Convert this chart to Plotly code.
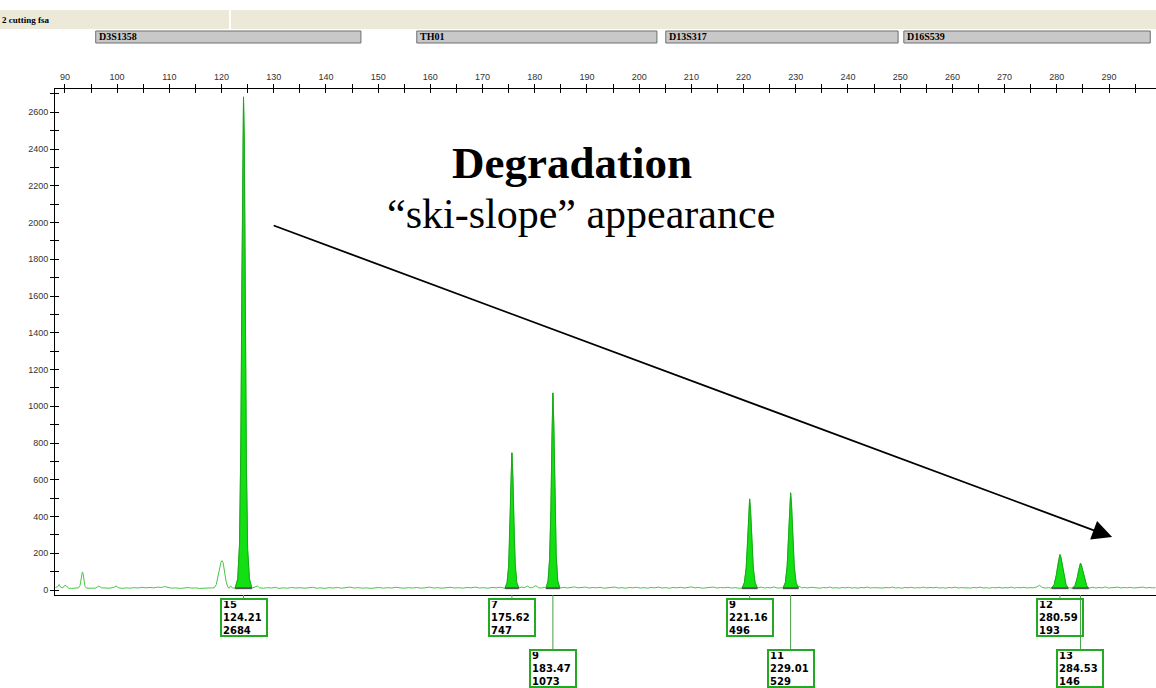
import plotly.graph_objects as go

# ---------------- data ----------------
sample_name = "2 cutting fsa"

locus_names = ["D3S1358", "TH01", "D13S317", "D16S539"]
locus_start = [95.9, 157.4, 205.1, 250.7]
locus_end = [146.7, 203.4, 249.6, 297.9]

allele_labels = ["15", "7", "9", "9", "11", "12", "13"]
allele_sizes = [124.21, 175.62, 183.47, 221.16, 229.01, 280.59, 284.53]
allele_heights = [2684, 747, 1073, 496, 529, 193, 146]

# called (filled) peak profiles: size (bp) / height (RFU)
allele_peak_x = [
    [122.6, 123.1, 123.45, 123.7, 123.9, 124.07, 124.21, 124.36, 124.55, 124.75, 125.0, 125.35, 125.8],
    [174.3, 174.7, 175.0, 175.25, 175.45, 175.62, 175.8, 176.0, 176.25, 176.55, 176.95],
    [182.15, 182.55, 182.85, 183.1, 183.3, 183.47, 183.65, 183.85, 184.1, 184.4, 184.8],
    [219.7, 220.15, 220.5, 220.78, 220.98, 221.16, 221.34, 221.56, 221.85, 222.2, 222.65],
    [227.55, 228.0, 228.35, 228.63, 228.83, 229.01, 229.19, 229.42, 229.7, 230.05, 230.5],
    [279.0, 279.5, 279.9, 280.2, 280.42, 280.59, 280.77, 281.0, 281.35, 281.75, 282.2],
    [283.0, 283.5, 283.9, 284.18, 284.37, 284.53, 284.7, 284.95, 285.3, 285.7, 286.1],
]
allele_peak_y = [
    [10, 60, 250, 800, 1700, 2500, 2684, 2450, 1500, 700, 220, 60, 10],
    [10, 40, 130, 330, 600, 747, 620, 360, 140, 40, 10],
    [10, 50, 170, 450, 850, 1073, 900, 500, 190, 50, 10],
    [10, 40, 120, 260, 420, 496, 430, 270, 120, 40, 10],
    [10, 40, 130, 280, 450, 529, 460, 290, 130, 40, 10],
    [10, 30, 80, 140, 180, 193, 180, 140, 80, 30, 10],
    [10, 25, 65, 110, 138, 146, 136, 105, 60, 25, 10],
]

# uncalled (outline only) peaks
other_peak_x = [
    [92.6, 92.9, 93.15, 93.33, 93.45, 93.62, 93.85, 94.15],
    [118.6, 119.0, 119.35, 119.65, 119.9, 120.1, 120.3, 120.55, 120.85, 121.2, 121.5],
]
other_peak_y = [
    [12, 25, 70, 98, 95, 60, 20, 10],
    [12, 30, 70, 120, 152, 160, 150, 105, 50, 15, 10],
]

# baseline noise (size, RFU)
baseline = [
    (88.2, 14), (88.6, 18), (88.9, 30), (89.2, 15), (89.6, 12), (90.0, 26), (90.3, 22), (90.7, 10),
    (91.3, 9), (92.0, 11), (92.5, 10), (94.5, 9), (95.2, 10), (95.9, 11), (96.5, 22), (97.0, 12),
    (97.8, 9), (98.5, 10), (99.3, 14), (99.8, 22), (100.3, 12), (101.0, 9), (101.8, 12), (102.5, 10),
    (103.3, 13), (104.0, 11), (104.8, 15), (105.5, 12), (106.3, 14), (107.0, 12), (107.8, 16),
    (108.5, 14), (109.1, 19), (109.7, 13), (110.4, 10), (111.2, 12), (112.0, 9), (112.8, 11),
    (113.6, 14), (114.3, 10), (115.0, 12), (115.8, 9), (116.6, 11), (117.4, 10), (118.2, 12),
    (121.7, 22), (122.1, 12), (122.5, 10), (125.9, 11), (126.4, 14), (126.9, 22), (127.3, 12),
    (128.0, 10), (128.8, 13), (129.6, 11), (130.3, 15), (131.0, 9), (131.8, 12), (132.6, 10),
    (133.4, 14), (134.2, 11), (135.0, 13), (135.8, 10), (136.6, 12), (137.4, 15), (138.2, 10),
    (139.0, 12), (139.8, 9), (140.6, 13), (141.4, 11), (142.2, 14), (143.0, 10), (143.8, 12),
    (144.6, 16), (145.4, 11), (146.2, 13), (147.0, 10), (147.8, 12), (148.6, 9), (149.4, 11),
    (150.2, 14), (151.0, 10), (151.8, 13), (152.6, 11), (153.4, 15), (154.2, 12), (155.0, 10),
    (155.8, 13), (156.6, 11), (157.4, 14), (158.2, 10), (159.0, 12), (159.8, 16), (160.6, 11),
    (161.4, 13), (162.2, 10), (163.0, 12), (163.8, 15), (164.6, 11), (165.4, 13), (166.2, 10),
    (167.0, 14), (167.8, 12), (168.6, 16), (169.4, 11), (170.2, 13), (171.0, 10), (171.8, 14),
    (172.6, 12), (173.4, 15), (174.1, 11), (177.0, 12), (177.5, 16), (178.0, 13), (178.6, 22),
    (179.1, 12), (179.6, 14), (180.2, 24), (180.7, 13), (181.3, 11), (181.9, 14), (185.0, 12),
    (185.6, 15), (186.2, 11), (186.9, 14), (187.6, 17), (188.3, 12), (189.0, 13), (189.7, 16),
    (190.4, 11), (191.1, 14), (191.8, 12), (192.5, 15), (193.2, 10), (193.9, 13), (194.6, 12),
    (195.3, 16), (196.0, 11), (196.7, 13), (197.4, 10), (198.1, 14), (198.8, 12), (199.5, 15),
    (200.2, 11), (200.9, 13), (201.6, 10), (202.3, 14), (203.0, 12), (203.7, 16), (204.4, 11),
    (205.1, 13), (205.8, 10), (206.5, 14), (207.2, 12), (207.9, 15), (208.6, 11), (209.3, 13),
    (210.0, 17), (210.7, 12), (211.4, 14), (212.1, 10), (212.8, 13), (213.5, 12), (214.2, 16),
    (214.9, 11), (215.6, 14), (216.3, 12), (217.0, 15), (217.7, 11), (218.4, 13), (219.1, 10),
    (219.6, 12), (222.8, 12), (223.4, 16), (224.0, 11), (224.6, 14), (225.2, 12), (225.8, 17),
    (226.4, 11), (227.0, 13), (227.5, 12), (230.6, 22), (231.1, 12), (231.7, 14), (232.3, 11),
    (232.9, 15), (233.5, 12), (234.1, 13), (234.7, 10), (235.3, 14), (235.9, 12), (236.5, 16),
    (237.1, 11), (237.7, 13), (238.3, 10), (238.9, 14), (239.5, 12), (240.1, 15), (240.7, 11),
    (241.3, 13), (241.9, 10), (242.5, 14), (243.1, 12), (243.7, 16), (244.3, 11), (244.9, 13),
    (245.5, 12), (246.1, 15), (246.7, 11), (247.3, 14), (247.9, 12), (248.5, 16), (249.1, 11),
    (249.7, 13), (250.3, 10), (250.9, 14), (251.5, 12), (252.1, 15), (252.7, 11), (253.3, 13),
    (253.9, 12), (254.5, 16), (255.1, 11), (255.7, 14), (256.3, 12), (256.9, 15), (257.5, 11),
    (258.1, 13), (258.7, 10), (259.3, 14), (259.9, 12), (260.5, 16), (261.1, 11), (261.7, 13),
    (262.3, 12), (262.9, 15), (263.5, 11), (264.1, 14), (264.7, 12), (265.3, 16), (265.9, 11),
    (266.5, 13), (267.1, 10), (267.7, 14), (268.3, 12), (268.9, 15), (269.5, 11), (270.1, 13),
    (270.7, 12), (271.3, 16), (271.9, 11), (272.5, 14), (273.1, 12), (273.7, 15), (274.3, 11),
    (274.9, 13), (275.5, 12), (276.1, 16), (276.7, 26), (277.2, 14), (277.8, 11), (278.4, 13),
    (278.9, 12), (282.4, 12), (282.9, 11), (286.3, 12), (286.9, 15), (287.5, 11), (288.1, 14),
    (288.7, 12), (289.3, 17), (289.9, 11), (290.5, 13), (291.1, 12), (291.7, 16), (292.3, 11),
    (292.9, 14), (293.5, 12), (294.1, 15), (294.7, 11), (295.3, 13), (295.9, 12), (296.5, 16),
    (297.1, 11), (297.7, 14), (298.3, 12), (298.9, 13),
]

title_main = "Degradation"
title_sub = "\u201cski-slope\u201d appearance"

# ---------------- figure ----------------
X_RANGE = [88.1, 299.0]
Y_RANGE = [-27, 2727]
TRACE_GREEN = "#45c845"
FILL_GREEN = "#12e012"
EDGE_GREEN = "#1aa81a"
BOX_GREEN = "#22aa22"
AX_FONT = dict(family="Arial, Liberation Sans", size=9, color="#333333")

pts = list(baseline)
for xs, ys in zip(allele_peak_x + other_peak_x, allele_peak_y + other_peak_y):
    pts += list(zip(xs, ys))
pts.sort(key=lambda p: p[0])

fig = go.Figure()

fig.add_trace(go.Scatter(x=[p[0] for p in pts], y=[p[1] for p in pts], mode="lines",
                         line=dict(color=TRACE_GREEN, width=1), hoverinfo="skip"))

for xs, ys in zip(allele_peak_x, allele_peak_y):
    fig.add_trace(go.Scatter(x=xs, y=ys, mode="lines", fill="toself", fillcolor=FILL_GREEN,
                             line=dict(color=EDGE_GREEN, width=1), hoverinfo="skip"))
    fig.add_trace(go.Scatter(x=[xs[0], xs[-1]], y=[ys[0], ys[-1]], mode="lines",
                             line=dict(color="#555555", width=2), hoverinfo="skip"))

# helper trace for the overlay axes (inner halves of the crossing ticks)
fig.add_trace(go.Scatter(x=[allele_sizes[0]], y=[0], xaxis="x2", yaxis="y2", mode="markers",
                         marker=dict(opacity=0), hoverinfo="skip"))

# allele call boxes
prev = None
prev_row = 2
for lab, s, h in zip(allele_labels, allele_sizes, allele_heights):
    row = 2 if (prev is not None and prev_row == 1 and s - prev < 10) else 1
    fig.add_annotation(
        x=s, y=0, xref="x", yref="paper",
        text=f"{lab}<br>{s:.2f}<br>{h}",
        showarrow=True, arrowhead=0, arrowwidth=1, arrowcolor="#44a044",
        ax=0, ay=22.5 if row == 1 else 73.5,
        align="left", valign="middle",
        width=42, height=33,
        font=dict(family="DejaVu Sans", size=10, color="black", weight="bold"),
        bordercolor=BOX_GREEN, borderwidth=2, borderpad=1, bgcolor="white",
    )
    prev, prev_row = s, row

# header strip
W_PLOT = 1101.0
H_PLOT = 506.0
def px_x(p):
    return (p - 55) / W_PLOT
def px_y(p):
    return (595 - p) / H_PLOT

fig.add_shape(type="rect", xref="paper", yref="paper", x0=px_x(0), x1=px_x(229),
              y0=px_y(29), y1=px_y(10), fillcolor="#ece9d8", line=dict(width=0), layer="above")
fig.add_shape(type="rect", xref="paper", yref="paper", x0=px_x(231), x1=px_x(1156),
              y0=px_y(29), y1=px_y(10), fillcolor="#ece9d8", line=dict(width=0), layer="above")
fig.add_annotation(x=px_x(0), y=px_y(19.5), xref="paper", yref="paper", xanchor="left",
                   yanchor="middle", text="<b>" + sample_name + "</b>", showarrow=False,
                   font=dict(family="Liberation Serif", size=9, color="black"))

for name, a, b in zip(locus_names, locus_start, locus_end):
    xa = (a - X_RANGE[0]) / (X_RANGE[1] - X_RANGE[0])
    xb = (b - X_RANGE[0]) / (X_RANGE[1] - X_RANGE[0])
    fig.add_shape(type="rect", xref="paper", yref="paper", x0=xa, x1=xb,
                  y0=px_y(43), y1=px_y(31), fillcolor="#c8c8c8",
                  line=dict(color="#6e6e6e", width=1), layer="above")
    fig.add_annotation(x=xa + 1.5 / W_PLOT, y=px_y(37), xref="paper", yref="paper",
                       xanchor="left", yanchor="middle", text="<b>" + name + "</b>",
                       showarrow=False,
                       font=dict(family="Liberation Serif", size=10, color="black"))

# degradation callout
fig.add_annotation(x=px_x(572), y=px_y(163), xref="paper", yref="paper", text="<b>" + title_main + "</b>",
                   showarrow=False, xanchor="center", yanchor="middle",
                   font=dict(family="Liberation Serif", size=45, color="black"))
fig.add_annotation(x=px_x(581), y=px_y(214), xref="paper", yref="paper", text=title_sub,
                   showarrow=False, xanchor="center", yanchor="middle",
                   font=dict(family="Liberation Serif", size=42, color="black"))
fig.add_annotation(x=290.6, y=288, xref="x", yref="y", ax=129.7, ay=1987, axref="x", ayref="y",
                   text="", showarrow=True, arrowhead=2, arrowsize=2.2, arrowwidth=1.8,
                   arrowcolor="black")

tick_common = dict(showgrid=False, zeroline=False)
fig.update_layout(
    width=1156, height=688,
    margin=dict(l=55, r=0, t=89, b=93),
    plot_bgcolor="white", paper_bgcolor="white",
    showlegend=False,
    xaxis=dict(range=X_RANGE, side="top", showline=True, linecolor="black", linewidth=1,
               mirror=True, ticks="outside", ticklen=4, tickcolor="black", tick0=90, dtick=10,
               minor=dict(ticks="outside", ticklen=4, tickcolor="black", dtick=5, tick0=90),
               tickfont=AX_FONT, **tick_common),
    xaxis2=dict(range=X_RANGE, overlaying="x", anchor="y", side="top", showline=False,
                ticks="inside", ticklen=4, tickcolor="black", tick0=90, dtick=10,
                minor=dict(ticks="inside", ticklen=4, tickcolor="black", dtick=5, tick0=90),
                showticklabels=False, **tick_common),
    yaxis=dict(range=Y_RANGE, showline=True, linecolor="black", linewidth=1,
               ticks="outside", ticklen=4, tickcolor="black", tick0=0, dtick=200,
               minor=dict(ticks="outside", ticklen=4, tickcolor="black", dtick=100, tick0=0),
               tickfont=AX_FONT, **tick_common),
    yaxis2=dict(range=Y_RANGE, overlaying="y", anchor="x", side="left", showline=False,
                ticks="inside", ticklen=4, tickcolor="black", tick0=0, dtick=200,
                minor=dict(ticks="inside", ticklen=4, tickcolor="black", dtick=100, tick0=0),
                showticklabels=False, **tick_common),
)

fig.write_html(
    "out.html",
    config={"displayModeBar": False},
    post_script="document.body.style.margin='0';document.body.style.overflow='hidden';",
)
